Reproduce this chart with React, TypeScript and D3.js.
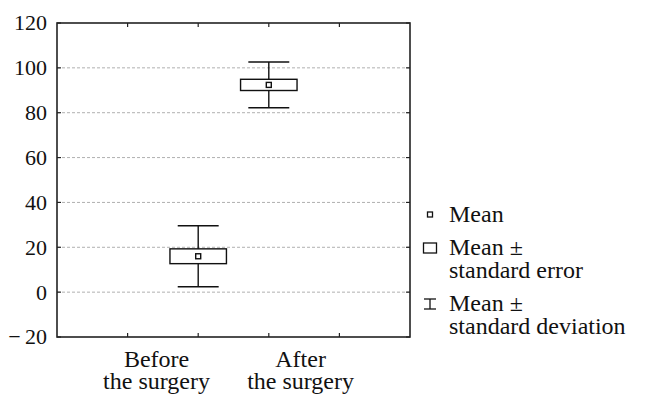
import React from "react";
import * as d3 from "d3";

// values
const groups = ["Before", "After"];
const groupSub = ["the surgery", "the surgery"];
const means = [16.0, 92.4];
const stdErrors = [3.3, 2.5];
const stdDevs = [13.6, 10.2];
const yTicks = [-20, 0, 20, 40, 60, 80, 100, 120];
const legendItems = [["Mean"], ["Mean ±", "standard error"], ["Mean ±", "standard deviation"]];

const W = 651;
const H = 398;
const margin = { top: 23, right: 241, bottom: 60, left: 57 };
const FONT = "'Liberation Serif', monospace";

export default function App() {
    const x = d3.scaleLinear().domain([0, 5]).range([margin.left, W - margin.right]);
    const y = d3.scaleLinear().domain([-20, 120]).range([H - margin.bottom - 1, margin.top]);
    const pos = [2, 3];
    const labelPos = [1.41, 3.45];
    const unit = x(1) - x(0);
    const boxW = unit * 0.8;
    const capW = unit * 0.58;
    const x0 = x(0), x1 = x(5), y0 = y(120), y1 = y(-20);
    const tickLen = 4;
    const txt = { fontFamily: FONT };
    const legendY = [222, 255, 311];

    return (
        <svg width={W} height={H} style={{ position: "absolute", left: 0, top: 0, background: "#fff" }}>
            {/* grid */}
            {yTicks.filter(t => t > -20 && t < 120).map(t => (
                <line key={"g" + t} x1={x0} x2={x1} y1={y(t)} y2={y(t)}
                    stroke="#b0b0b0" strokeWidth={1} strokeDasharray="3,2" />
            ))}
            {/* y tick marks + labels */}
            {yTicks.map(t => (
                <g key={"y" + t}>
                    <line x1={x0} x2={x0 + tickLen} y1={y(t)} y2={y(t)} stroke="#222" strokeWidth={1.2} />
                    <line x1={x1} x2={x1 - tickLen} y1={y(t)} y2={y(t)} stroke="#222" strokeWidth={1.2} />
                    <text x={x0 - 10} y={y(t)} dy="0.34em" textAnchor="end" fontSize={22} fill="#111" style={txt}>
                        {t < 0 ? "\u2212\u2009" + Math.abs(t) : t}
                    </text>
                </g>
            ))}
            {/* x tick marks */}
            {d3.range(1, 5).map(i => (
                <g key={"x" + i}>
                    <line x1={x(i)} x2={x(i)} y1={y0} y2={y0 + tickLen} stroke="#222" strokeWidth={1.2} />
                    <line x1={x(i)} x2={x(i)} y1={y1} y2={y1 - tickLen} stroke="#222" strokeWidth={1.2} />
                </g>
            ))}
            {/* frame */}
            <rect x={x0} y={y0} width={x1 - x0} height={y1 - y0} fill="none" stroke="#222" strokeWidth={1.6} />

            {/* boxes */}
            {means.map((m, i) => {
                const cx = x(pos[i]);
                const sd = stdDevs[i], se = stdErrors[i];
                return (
                    <g key={"b" + i} stroke="#111" strokeWidth={1.4} fill="#fff">
                        <line x1={cx} x2={cx} y1={y(m + sd)} y2={y(m - sd)} />
                        <line x1={cx - capW / 2} x2={cx + capW / 2} y1={y(m + sd)} y2={y(m + sd)} />
                        <line x1={cx - capW / 2} x2={cx + capW / 2} y1={y(m - sd)} y2={y(m - sd)} />
                        <rect x={cx - boxW / 2} y={y(m + se)} width={boxW} height={y(m - se) - y(m + se)} />
                        <rect x={cx - 2.5} y={y(m) - 2.5} width={5} height={5} />
                    </g>
                );
            })}

            {/* x labels */}
            {groups.map((g, i) => (
                <g key={"l" + i}>
                    <text x={x(labelPos[i])} y={367} textAnchor="middle" fontSize={24} fill="#111" style={txt}>{g}</text>
                    <text x={x(labelPos[i])} y={389} textAnchor="middle" fontSize={24} fill="#111" style={txt}>{groupSub[i]}</text>
                </g>
            ))}

            {/* legend */}
            <g stroke="#111" strokeWidth={1.3} fill="#fff">
                <rect x={427.5} y={212} width={5} height={5} />
                <rect x={423.5} y={243} width={13} height={10} />
                <line x1={430} x2={430} y1={299} y2={309} />
                <line x1={424} x2={436} y1={299} y2={299} />
                <line x1={424} x2={436} y1={309} y2={309} />
            </g>
            {legendItems.map((lines, i) =>
                lines.map((t, j) => (
                    <text key={"lg" + i + "-" + j} x={449} y={legendY[i] + j * 23}
                        fontSize={24} fill="#111" style={txt}>{t}</text>
                ))
            )}
        </svg>
    );
}
